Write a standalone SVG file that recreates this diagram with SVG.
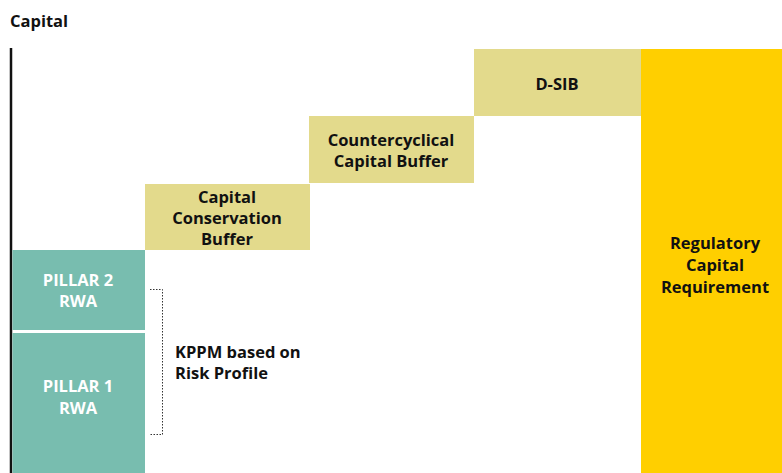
<svg xmlns="http://www.w3.org/2000/svg" width="782" height="473" viewBox="0 0 782 473">
  <style>
    text { font-family: "Open Sans", "Noto Sans", "Liberation Sans", sans-serif; font-weight: bold; font-size: 16.5px; text-anchor: middle; }
    .dark { fill: #111111; }
    .light { fill: #ffffff; }
    .teal { fill: #78BDAF; }
    .khaki { fill: #E3DA8C; }
    .gold { fill: #FFCF00; }
  </style>
  <rect width="782" height="473" fill="#ffffff"/>

  <text class="dark" x="10" y="27" style="text-anchor:start">Capital</text>

  <g id="connectors">
    <!-- vertical capital axis -->
    <line x1="11" y1="48" x2="11" y2="473" stroke="#111111" stroke-width="2.5"/>
    <!-- dotted bracket spanning the pillar blocks -->
    <polyline points="150,289.5 162.5,289.5 162.5,434.5 150,434.5" fill="none" stroke="#333333" stroke-width="1" stroke-dasharray="1.5,1.5"/>
  </g>

  <g id="pillar2">
    <rect class="teal" x="12.5" y="250" width="132.5" height="80"/>
    <text class="light" x="78" y="286">PILLAR 2</text>
    <text class="light" x="78" y="307">RWA</text>
  </g>

  <g id="pillar1">
    <rect class="teal" x="12.5" y="333" width="132.5" height="140"/>
    <text class="light" x="78" y="392">PILLAR 1</text>
    <text class="light" x="78" y="414">RWA</text>
  </g>

  <g id="conservation-buffer">
    <rect class="khaki" x="145" y="184" width="165" height="66"/>
    <text class="dark" x="227" y="203">Capital</text>
    <text class="dark" x="227" y="224">Conservation</text>
    <text class="dark" x="227" y="245">Buffer</text>
  </g>

  <g id="countercyclical-buffer">
    <rect class="khaki" x="309" y="116" width="165" height="67"/>
    <text class="dark" x="391" y="146">Countercyclical</text>
    <text class="dark" x="391" y="167">Capital Buffer</text>
  </g>

  <g id="dsib">
    <rect class="khaki" x="474" y="49" width="167" height="67"/>
    <text class="dark" x="557" y="90">D-SIB</text>
  </g>

  <g id="regulatory-capital">
    <rect class="gold" x="641" y="49" width="141" height="424"/>
    <text class="dark" x="715" y="249">Regulatory</text>
    <text class="dark" x="715" y="271">Capital</text>
    <text class="dark" x="715" y="293">Requirement</text>
  </g>

  <g id="kppm">
    <text class="dark" x="175" y="358" style="text-anchor:start">KPPM based on</text>
    <text class="dark" x="175" y="379" style="text-anchor:start">Risk Profile</text>
  </g>
</svg>
